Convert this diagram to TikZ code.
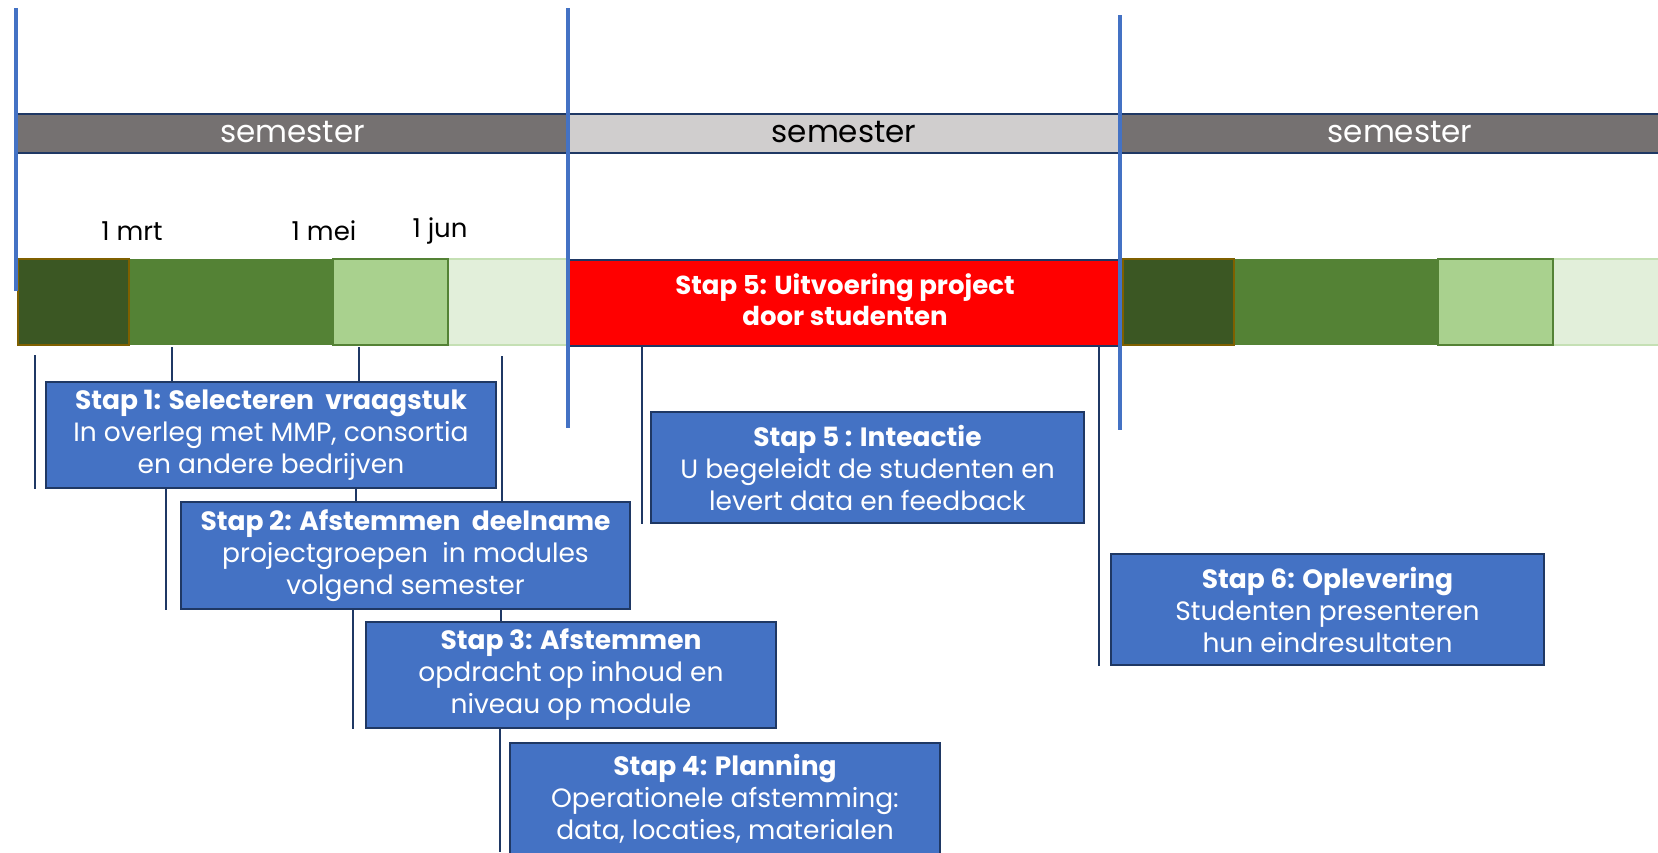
\documentclass[tikz,border=0pt]{standalone}
\usepackage{fontspec}
\setmainfont{Poppins}
\definecolor{navy}{HTML}{1F3864}
\definecolor{lineblue}{HTML}{4472C4}
\definecolor{stapblue}{HTML}{4472C4}
\definecolor{semdark}{HTML}{757171}
\definecolor{semlight}{HTML}{D0CECE}
\definecolor{gdark}{HTML}{3B5723}
\definecolor{gbrown}{HTML}{7F6000}
\definecolor{gmid}{HTML}{548235}
\definecolor{glight}{HTML}{A9D18E}
\definecolor{gpale}{HTML}{E2EFDA}
\definecolor{gpaleline}{HTML}{C5E0B4}
\tikzset{
  stapbox/.style={draw=navy, line width=2pt, fill=stapblue, text=white,
    align=center, inner sep=0pt, anchor=north west,
    font=\fontsize{26.5}{32}\selectfont},
  tick/.style={draw=navy, line width=1.5pt},
  divider/.style={draw=lineblue, line width=4pt},
}
\begin{document}
\begin{tikzpicture}[x=1pt,y=-1pt]
    \useasboundingbox (0,0) rectangle (1658,852);
    % semesters
    \foreach \x/\w/\c/\t [count=\i] in {17/551/semdark/white,568/552/semlight/black,1120/560/semdark/white}
        {\draw [navy, line width=1.5pt, fill=\c] (\x,114) rectangle (\x+\w,153);
         \node [text=\t, font=\fontsize{31}{36}\selectfont] (sem\i) at (\x+\w/2,132) {semester};}

    % dates
    \foreach \x/\d [count=\i] in {132/1 mrt,324/1 mei,440/1 jun}
        {\node [font=\fontsize{26}{30}\selectfont] (date\i) at (\x,231) {\d};}

    % green blocks
    \foreach \o in {0,1105}
        {\draw [gpaleline, line width=1.5pt, fill=gpale] (448+\o,259) rectangle (568+\o,345);
         \fill [gmid] (129+\o,259) rectangle (333+\o,345);
         \draw [gmid, line width=1.5pt, fill=glight] (333+\o,259) rectangle (448+\o,345);
         \draw [gbrown, line width=1.5pt, fill=gdark] (18+\o,259) rectangle (129+\o,345);}

    \node [draw=navy, line width=2pt, fill=red, text=white, align=center, inner sep=0pt,
        anchor=north west, minimum width=552pt, minimum height=86pt,
        font=\fontsize{26}{31}\selectfont\bfseries] (uitv) at (568,259)
        {Stap 5: Uitvoering project\\door studenten\rule[-6pt]{0pt}{1pt}};

    % steps
    \node [stapbox, minimum width=450pt, minimum height=106pt] (s1) at (45,381)
        {\textbf{Stap 1: Selecteren\ \ vraagstuk}\\In overleg met MMP, consortia\\en andere bedrijven};
    \node [stapbox, minimum width=449pt, minimum height=107pt] (s2) at (180,501)
        {\textbf{Stap 2: Afstemmen\ \ deelname}\\projectgroepen\ \ in modules\\volgend semester};
    \node [stapbox, minimum width=410pt, minimum height=106pt] (s3) at (365,621)
        {\textbf{Stap 3: Afstemmen}\\opdracht op inhoud en\\niveau op module};
    \node [stapbox, minimum width=430pt, minimum height=112pt] (s4) at (509,742)
        {\textbf{Stap 4: Planning}\\Operationele afstemming:\\data, locaties, materialen};
    \node [stapbox, minimum width=433pt, minimum height=111pt] (s5) at (650,411)
        {\textbf{Stap 5 : Inteactie}\\U begeleidt de studenten en\\levert data en feedback};
    \node [stapbox, minimum width=433pt, minimum height=111pt] (s6) at (1110,553)
        {\textbf{Stap 6: Oplevering}\\Studenten presenteren\\hun eindresultaten};

    % ticks
    \draw [tick] (35,355) -- (35,0 |- s1.south);
    \draw [tick] (172,0 |- uitv.south) -- (172,0 |- s1.north);
    \draw [tick] (166,0 |- s1.south) -- (166,0 |- s2.south);
    \draw [tick] (359,0 |- uitv.south) -- (359,0 |- s1.north);
    \draw [tick] (356,0 |- s1.south) -- (356,0 |- s2.north);
    \draw [tick] (353,0 |- s2.south) -- (353,0 |- s3.south);
    \draw [tick] (502,356) -- (502,0 |- s2.north);
    \draw [tick] (501,0 |- s2.south) -- (501,0 |- s3.north);
    \draw [tick] (500,0 |- s3.south) -- (500,852);
    \draw [tick] (642,0 |- uitv.south) -- (642,0 |- s5.south);
    \draw [tick] (1099,0 |- uitv.south) -- (1099,0 |- s6.south);

    % semester dividers
    \draw [divider] (16,8) -- (16,291);
    \draw [divider] (568,8) -- (568,428);
    \draw [divider] (1120,15) -- (1120,430);
\end{tikzpicture}
\end{document}
